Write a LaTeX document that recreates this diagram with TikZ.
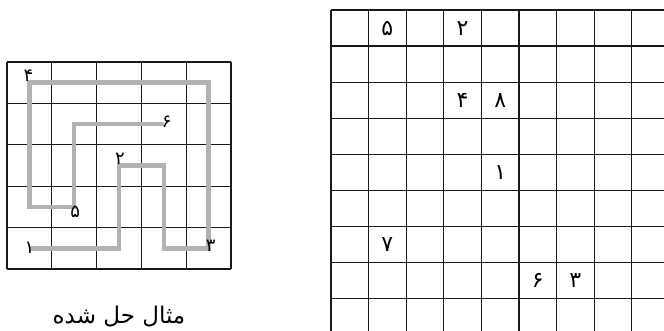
\documentclass[tikz,border=0pt]{standalone}
\usepackage{fontspec}
\newfontfamily\farsi[Script=Arabic]{DejaVu Sans}
\TeXXeTstate=1
\usetikzlibrary{positioning}
\definecolor{trailgray}{RGB}{178,178,178}

\begin{document}
\begin{tikzpicture}[x=1pt,y=-1pt,
  gridline/.style={line width=1.3pt, black!90},
  trail/.style={line width=4.5pt, trailgray, line join=miter},
  smalldigit/.style={font=\farsi\fontsize{18}{18}\selectfont, inner sep=0pt},
  bigdigit/.style={font=\farsi\fontsize{22}{22}\selectfont, inner sep=0pt}]
 \useasboundingbox (0,0) rectangle (664,331);
 % solved example, 5 x 5
 \foreach \i in {0,...,5} {
  \draw[gridline] (7+44.8*\i,62) -- (7+44.8*\i,269);
  \draw[gridline] (7,62+41.4*\i) -- (231,62+41.4*\i);
 }
 \foreach \i in {0,...,4}
  \foreach \j in {0,...,4}
   \coordinate (c-\i-\j) at (29.4+44.8*\i,82.7+41.4*\j);
 \draw[trail] (c-0-4) -- (c-2-4) -- (c-2-2) -- (c-3-2) -- (c-3-4) -- (c-4-4)
  -- (c-4-0) -- (c-0-0) -- (c-0-3) -- (c-1-3) -- (c-1-1) -- (c-3-1);
 \node[smalldigit] (s1) at ([shift={(0,-1)}]c-0-4) {۱};
 \node[smalldigit] (s2) at ([shift={(1,-7)}]c-2-2) {۲};
 \node[smalldigit] (s3) at ([shift={(2,-3)}]c-4-4) {۳};
 \node[smalldigit] (s4) at ([shift={(-1,-7)}]c-0-0) {۴};
 \node[smalldigit] (s5) at ([shift={(1,5)}]c-1-3) {۵};
 \node[smalldigit] (s6) at ([shift={(3,-2)}]c-3-1) {۶};
 \node[font=\farsi\fontsize{23}{23}\selectfont, inner sep=0pt] (caption) at (119,317) {\beginR مثال حل شده\endR};
 % puzzle grid, cut off at the page edge
 \begin{scope}
  \clip (0,0) rectangle (664,331);
  \foreach \i in {0,...,9}
   \draw[gridline] (331+37.6*\i,10) -- (331+37.6*\i,345);
  \foreach \j in {0,...,9}
   \draw[gridline] (331,10+36.1*\j) -- (680,10+36.1*\j);
 \end{scope}
 \foreach \i in {0,...,8}
  \foreach \j in {0,...,8}
   \coordinate (p-\i-\j) at (349.8+37.6*\i,28.05+36.1*\j);
 \node[bigdigit] (d5) at (p-1-0) {۵};
 \node[bigdigit] (d2) at (p-3-0) {۲};
 \node[bigdigit] (d4) at (p-3-2) {۴};
 \node[bigdigit] (d8) at (p-4-2) {۸};
 \node[bigdigit] (d1) at (p-4-4) {۱};
 \node[bigdigit] (d7) at (p-1-6) {۷};
 \node[bigdigit] (d6) at (p-5-7) {۶};
 \node[bigdigit] (d3) at (p-6-7) {۳};
\end{tikzpicture}
\end{document}
